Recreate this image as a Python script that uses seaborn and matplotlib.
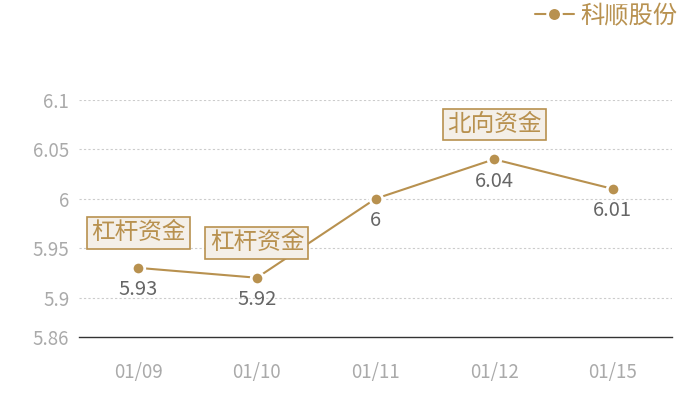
import matplotlib
matplotlib.use("Agg")
import matplotlib.pyplot as plt
import seaborn as sns
import pandas as pd

dates = ["01/09", "01/10", "01/11", "01/12", "01/15"]
values = [5.93, 5.92, 6.00, 6.04, 6.01]
value_labels = ["5.93", "5.92", "6", "6.04", "6.01"]
notes = ["杠杆资金", "杠杆资金", "", "北向资金", ""]
series_name = "科顺股份"
yticks = [5.86, 5.9, 5.95, 6.0, 6.05, 6.1]
ytick_labels = ["5.86", "5.9", "5.95", "6", "6.05", "6.1"]

sns.set_theme(style="white")
plt.rcParams['font.family'] = ['Noto Sans CJK SC', 'DejaVu Sans']

GOLD = "#B8914F"
df = pd.DataFrame({"date": dates, "value": values})

fig = plt.figure(figsize=(7, 4), dpi=100)
ax = fig.add_axes([79/700, 1-337/400, (672-79)/700, (337-100)/400])

sns.lineplot(data=df, x="date", y="value", ax=ax, color=GOLD, linewidth=1.5,
             marker="o", markersize=9, markeredgecolor="white", markeredgewidth=2,
             label=series_name)

ax.set_xlim(-0.5, len(dates) - 0.5)
ax.set_ylim(5.86, 6.1)
ax.set_yticks(yticks)
ax.set_yticklabels(ytick_labels)
ax.set_xlabel("")
ax.set_ylabel("")
ax.tick_params(axis="y", length=0, pad=7, labelsize=13.5, labelcolor="#AAAAAA")
ax.tick_params(axis="x", length=0, pad=18, labelsize=13.5, labelcolor="#AAAAAA")

for y in yticks[1:]:
    ax.axhline(y, color="#CCCCCC", linewidth=0.8, linestyle=(0, (2, 2)), zorder=0)
for s in ["top", "right", "left"]:
    ax.spines[s].set_visible(False)
ax.spines["bottom"].set_color("#333333")
ax.spines["bottom"].set_linewidth(1)

for i, (v, lab, note) in enumerate(zip(values, value_labels, notes)):
    ax.annotate(lab, (i, v), xytext=(0, -22), textcoords="offset pixels",
                ha="center", va="center", fontsize=14.5, color="#666666")
    if note:
        ax.annotate(note, (i, v), xytext=(0, 35), textcoords="offset pixels",
                    ha="center", va="center", fontsize=17, color=GOLD,
                    bbox=dict(boxstyle="square,pad=0.18", facecolor="#F4EFE8",
                              edgecolor=GOLD, linewidth=1.2))

leg = ax.legend(loc="upper right", bbox_to_anchor=(677/700, 1 - 3/400),
                bbox_transform=fig.transFigure, frameon=False, fontsize=17.5,
                handlelength=1.6, handletextpad=0.25, labelcolor=GOLD,
                borderaxespad=0, borderpad=0, markerscale=1.1)

fig.savefig("out.png", dpi=100)
